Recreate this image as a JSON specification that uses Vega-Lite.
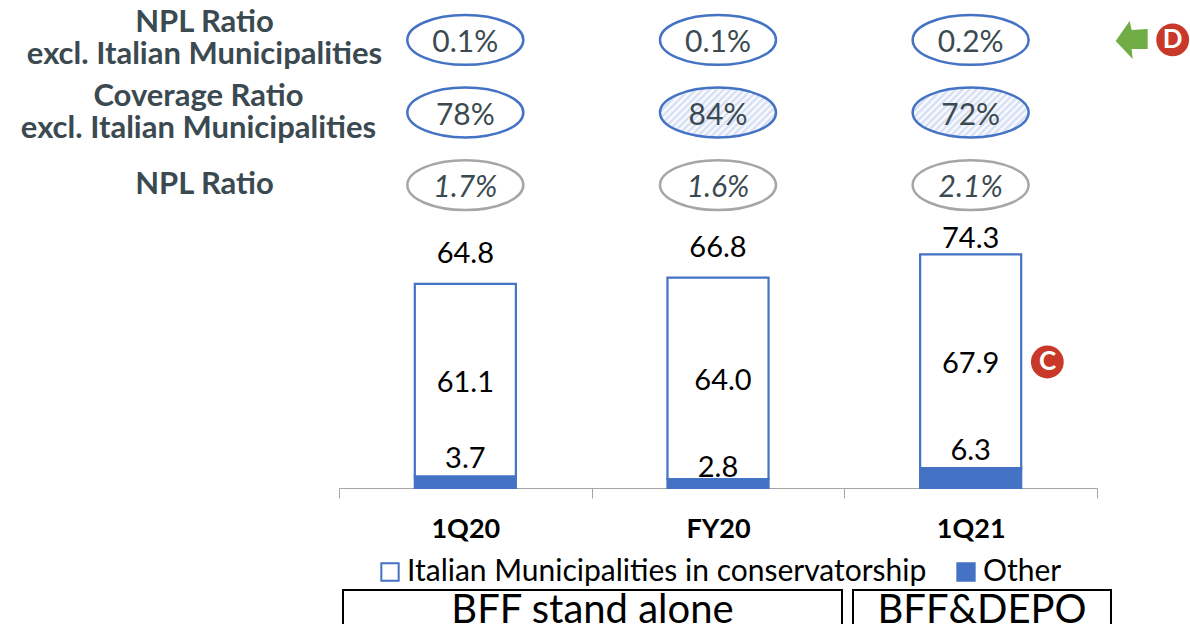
{
  "$schema": "https://vega.github.io/schema/vega-lite/v6.json",
  "padding": {"left": 20, "top": 0, "right": 0, "bottom": 0},
  "background": "white",
  "bounds": "flush",
  "spacing": 0,
  "config": {"view": {"stroke": null}, "font": "Lato", "text": {"font": "Lato"}},
  "datasets": {
    "ratios": [
      {"period": "1Q20", "row": "NPL Ratio|excl. Italian Municipalities", "ratio": "0.1%"},
      {"period": "FY20", "row": "NPL Ratio|excl. Italian Municipalities", "ratio": "0.1%"},
      {"period": "1Q21", "row": "NPL Ratio|excl. Italian Municipalities", "ratio": "0.2%"},
      {"period": "1Q20", "row": "Coverage Ratio|excl. Italian Municipalities", "ratio": "78%"},
      {"period": "FY20", "row": "Coverage Ratio|excl. Italian Municipalities", "ratio": "84%"},
      {"period": "1Q21", "row": "Coverage Ratio|excl. Italian Municipalities", "ratio": "72%"},
      {"period": "1Q20", "row": "NPL Ratio", "ratio": "1.7%"},
      {"period": "FY20", "row": "NPL Ratio", "ratio": "1.6%"},
      {"period": "1Q21", "row": "NPL Ratio", "ratio": "2.1%"}
    ],
    "segments": [
      {"period": "1Q20", "segment": "Other", "value": 3.7},
      {"period": "1Q20", "segment": "Italian Municipalities in conservatorship", "value": 61.1},
      {"period": "FY20", "segment": "Other", "value": 2.8},
      {"period": "FY20", "segment": "Italian Municipalities in conservatorship", "value": 64.0},
      {"period": "1Q21", "segment": "Other", "value": 6.3},
      {"period": "1Q21", "segment": "Italian Municipalities in conservatorship", "value": 67.9}
    ],
    "totals": [
      {"period": "1Q20", "total": 64.8},
      {"period": "FY20", "total": 66.8},
      {"period": "1Q21", "total": 74.3}
    ]
  },
  "vconcat": [
    {
      "width": 758,
      "height": 225,
      "data": {"name": "ratios"},
      "encoding": {
        "x": {"field": "period", "type": "nominal", "sort": ["1Q20", "FY20", "1Q21"], "axis": null},
        "y": {
          "field": "row",
          "type": "nominal",
          "sort": ["NPL Ratio|excl. Italian Municipalities", "Coverage Ratio|excl. Italian Municipalities", "NPL Ratio"],
          "scale": {"type": "point", "padding": 0.55},
          "axis": {
            "title": null,
            "domain": false,
            "ticks": false,
            "grid": false,
            "labelAlign": "center",
            "labelBaseline": "middle",
            "labelPadding": {"condition": {"test": "indexof(datum.value, 'Coverage') === 0", "value": 141}, "value": 135},
            "labelOffset": {
              "condition": [
                {"test": "indexof(datum.value, 'Coverage') === 0", "value": -16},
                {"test": "indexof(datum.value, '|') >= 0", "value": -17}
              ],
              "value": -1
            },
            "labelFont": "Lato",
            "labelFontWeight": "bold",
            "labelFontSize": 31,
            "labelColor": "#3b4a50",
            "labelLineHeight": 32,
            "labelLimit": 500,
            "labelExpr": "split(datum.label, '|')"
          }
        }
      },
      "layer": [
        {
          "transform": [{"filter": "datum.row === 'Coverage Ratio|excl. Italian Municipalities' && datum.period !== '1Q20'"}],
          "mark": {
            "type": "point",
            "shape": "M-1,0C-1,-0.24,-0.55,-0.43,0,-0.43C0.55,-0.43,1,-0.24,1,0C1,0.24,0.55,0.43,0,0.43C-0.55,0.43,-1,0.24,-1,0Z",
            "size": 13456,
            "opacity": 1,
            "strokeOpacity": 0,
            "fill": {
              "gradient": "linear", "x1": 0, "y1": 0, "x2": 1.207, "y2": 0.52,
              "stops": [
                {"offset": 0, "color": "#ffffff"}, {"offset": 0.0208, "color": "#d0dbf2"}, {"offset": 0.0417, "color": "#ffffff"}, {"offset": 0.0625, "color": "#d0dbf2"},
                {"offset": 0.0833, "color": "#ffffff"}, {"offset": 0.1042, "color": "#d0dbf2"}, {"offset": 0.125, "color": "#ffffff"}, {"offset": 0.1458, "color": "#d0dbf2"},
                {"offset": 0.1667, "color": "#ffffff"}, {"offset": 0.1875, "color": "#d0dbf2"}, {"offset": 0.2083, "color": "#ffffff"}, {"offset": 0.2292, "color": "#d0dbf2"},
                {"offset": 0.25, "color": "#ffffff"}, {"offset": 0.2708, "color": "#d0dbf2"}, {"offset": 0.2917, "color": "#ffffff"}, {"offset": 0.3125, "color": "#d0dbf2"},
                {"offset": 0.3333, "color": "#ffffff"}, {"offset": 0.3542, "color": "#d0dbf2"}, {"offset": 0.375, "color": "#ffffff"}, {"offset": 0.3958, "color": "#d0dbf2"},
                {"offset": 0.4167, "color": "#ffffff"}, {"offset": 0.4375, "color": "#d0dbf2"}, {"offset": 0.4583, "color": "#ffffff"}, {"offset": 0.4792, "color": "#d0dbf2"},
                {"offset": 0.5, "color": "#ffffff"}, {"offset": 0.5208, "color": "#d0dbf2"}, {"offset": 0.5417, "color": "#ffffff"}, {"offset": 0.5625, "color": "#d0dbf2"},
                {"offset": 0.5833, "color": "#ffffff"}, {"offset": 0.6042, "color": "#d0dbf2"}, {"offset": 0.625, "color": "#ffffff"}, {"offset": 0.6458, "color": "#d0dbf2"},
                {"offset": 0.6667, "color": "#ffffff"}, {"offset": 0.6875, "color": "#d0dbf2"}, {"offset": 0.7083, "color": "#ffffff"}, {"offset": 0.7292, "color": "#d0dbf2"},
                {"offset": 0.75, "color": "#ffffff"}, {"offset": 0.7708, "color": "#d0dbf2"}, {"offset": 0.7917, "color": "#ffffff"}, {"offset": 0.8125, "color": "#d0dbf2"},
                {"offset": 0.8333, "color": "#ffffff"}, {"offset": 0.8542, "color": "#d0dbf2"}, {"offset": 0.875, "color": "#ffffff"}, {"offset": 0.8958, "color": "#d0dbf2"},
                {"offset": 0.9167, "color": "#ffffff"}, {"offset": 0.9375, "color": "#d0dbf2"}, {"offset": 0.9583, "color": "#ffffff"}, {"offset": 0.9792, "color": "#d0dbf2"},
                {"offset": 1, "color": "#ffffff"}
              ]
            }
          }
        },
        {
          "mark": {
            "type": "point",
            "shape": "M-1,0C-1,-0.24,-0.55,-0.43,0,-0.43C0.55,-0.43,1,-0.24,1,0C1,0.24,0.55,0.43,0,0.43C-0.55,0.43,-1,0.24,-1,0Z",
            "size": 13456,
            "opacity": 1,
            "fill": null,
            "strokeWidth": 2.5
          },
          "encoding": {
            "stroke": {
              "field": "row",
              "type": "nominal",
              "scale": {
                "domain": ["NPL Ratio|excl. Italian Municipalities", "Coverage Ratio|excl. Italian Municipalities", "NPL Ratio"],
                "range": ["#4472c4", "#4472c4", "#a6a6a6"]
              },
              "legend": null
            }
          }
        },
        {
          "transform": [{"filter": "datum.row !== 'NPL Ratio'"}],
          "mark": {"type": "text", "font": "Lato", "fontSize": 30, "color": "#3b4a50", "baseline": "middle", "dy": 3},
          "encoding": {"text": {"field": "ratio", "type": "nominal"}}
        },
        {
          "transform": [{"filter": "datum.row === 'NPL Ratio'"}],
          "mark": {"type": "text", "font": "Lato", "fontStyle": "italic", "fontSize": 30, "color": "#3b4a50", "baseline": "middle", "dy": 3},
          "encoding": {"text": {"field": "ratio", "type": "nominal"}}
        },
        {
          "data": {"values": [{"period": "1Q21", "row": "NPL Ratio|excl. Italian Municipalities", "badge": "D"}]},
          "mark": {
            "type": "point",
            "shape": "M-0.85,0.05L-0.15,-0.95L-0.05,-0.5L0.75,-0.55L0.75,0.45L-0.05,0.45L0,0.95Z",
            "size": 1600,
            "opacity": 1,
            "filled": true,
            "color": "#70ad47"
          },
          "encoding": {"xOffset": {"value": 162}}
        },
        {
          "data": {"values": [{"period": "1Q21", "row": "NPL Ratio|excl. Italian Municipalities", "badge": "D"}]},
          "mark": {"type": "point", "shape": "circle", "size": 1075, "opacity": 1, "filled": true, "color": "#c9392a"},
          "encoding": {"xOffset": {"value": 202}}
        },
        {
          "data": {"values": [{"period": "1Q21", "row": "NPL Ratio|excl. Italian Municipalities", "badge": "D"}]},
          "mark": {"type": "text", "font": "Lato", "fontWeight": "bold", "fontSize": 26, "color": "white", "baseline": "middle", "dx": 202},
          "encoding": {"text": {"field": "badge", "type": "nominal"}}
        }
      ]
    },
    {
      "width": 758,
      "height": 263,
      "encoding": {
        "x": {
          "field": "period",
          "type": "nominal",
          "sort": ["1Q20", "FY20", "1Q21"],
          "scale": {"paddingInner": 0, "paddingOuter": 0},
          "axis": {
            "title": null,
            "labelAngle": 0,
            "tickBand": "extent",
            "tickSize": 10,
            "tickWidth": 1,
            "tickColor": "#a6a6a6",
            "domainColor": "#a6a6a6",
            "domainWidth": 1,
            "grid": false,
            "labelFont": "Lato",
            "labelFontWeight": "bold",
            "labelFontSize": 27,
            "labelColor": "black",
            "labelPadding": 18
          }
        }
      },
      "layer": [
        {
          "data": {"name": "segments"},
          "transform": [
            {"stack": "value", "groupby": ["period"], "sort": [{"field": "segment", "order": "descending"}], "as": ["y0", "y1"]}
          ],
          "mark": {"type": "bar", "width": {"band": 0.4}, "stroke": "#4472c4", "strokeWidth": 2.2},
          "encoding": {
            "y": {"field": "y0", "type": "quantitative", "scale": {"domain": [0, 83.5], "nice": false}, "axis": null},
            "y2": {"field": "y1"},
            "fill": {
              "field": "segment",
              "type": "nominal",
              "scale": {
                "domain": ["Italian Municipalities in conservatorship", "Other"],
                "range": ["#ffffff", "#4472c4"]
              },
              "legend": {
                "title": null,
                "orient": "none",
                "legendX": 36,
                "legendY": 557,
                "direction": "horizontal",
                "symbolType": "square",
                "symbolSize": 300,
                "symbolStrokeColor": "#4472c4",
                "symbolStrokeWidth": 2,
                "labelFont": "Lato",
                "labelFontSize": 30,
                "labelColor": "black",
                "labelLimit": 700,
                "labelOffset": 2,
                "columnPadding": 24
              }
            }
          }
        },
        {
          "data": {"name": "segments"},
          "transform": [
            {"stack": "value", "groupby": ["period"], "sort": [{"field": "segment", "order": "descending"}], "as": ["y0", "y1"]},
            {"filter": "datum.segment !== 'Other' && datum.period !== 'FY20'"},
            {"calculate": "(datum.y0 + datum.y1) / 2", "as": "mid"}
          ],
          "mark": {"type": "text", "font": "Lato", "fontSize": 29, "color": "black", "baseline": "middle", "dy": 3},
          "encoding": {
            "y": {"field": "mid", "type": "quantitative"},
            "text": {"field": "value", "type": "quantitative", "format": ".1f"}
          }
        },
        {
          "data": {"name": "segments"},
          "transform": [
            {"stack": "value", "groupby": ["period"], "sort": [{"field": "segment", "order": "descending"}], "as": ["y0", "y1"]},
            {"filter": "datum.segment !== 'Other' && datum.period === 'FY20'"},
            {"calculate": "(datum.y0 + datum.y1) / 2", "as": "mid"}
          ],
          "mark": {"type": "text", "font": "Lato", "fontSize": 29, "color": "black", "baseline": "middle", "dx": 5, "dy": 3},
          "encoding": {
            "y": {"field": "mid", "type": "quantitative"},
            "text": {"field": "value", "type": "quantitative", "format": ".1f"}
          }
        },
        {
          "data": {"name": "segments"},
          "transform": [{"filter": "datum.segment === 'Other' && datum.period !== 'FY20'"}],
          "mark": {"type": "text", "font": "Lato", "fontSize": 29, "color": "black", "baseline": "middle", "dy": -17},
          "encoding": {
            "y": {"field": "value", "type": "quantitative"},
            "text": {"field": "value", "type": "quantitative", "format": ".1f"}
          }
        },
        {
          "data": {"name": "segments"},
          "transform": [{"filter": "datum.segment === 'Other' && datum.period === 'FY20'"}],
          "mark": {"type": "text", "font": "Lato", "fontSize": 29, "color": "black", "baseline": "middle", "dy": -11},
          "encoding": {
            "y": {"field": "value", "type": "quantitative"},
            "text": {"field": "value", "type": "quantitative", "format": ".1f"}
          }
        },
        {
          "data": {"name": "totals"},
          "transform": [{"filter": "datum.period !== '1Q21'"}],
          "mark": {"type": "text", "font": "Lato", "fontSize": 29, "color": "black", "baseline": "middle", "dy": -30},
          "encoding": {
            "y": {"field": "total", "type": "quantitative"},
            "text": {"field": "total", "type": "quantitative", "format": ".1f"}
          }
        },
        {
          "data": {"name": "totals"},
          "transform": [{"filter": "datum.period === '1Q21'"}],
          "mark": {"type": "text", "font": "Lato", "fontSize": 29, "color": "black", "baseline": "middle", "dy": -15},
          "encoding": {
            "y": {"field": "total", "type": "quantitative"},
            "text": {"field": "total", "type": "quantitative", "format": ".1f"}
          }
        },
        {
          "data": {"values": [{"period": "1Q21", "level": 40, "badge": "C"}]},
          "mark": {"type": "point", "shape": "circle", "size": 1075, "opacity": 1, "filled": true, "color": "#c9392a"},
          "encoding": {"y": {"field": "level", "type": "quantitative"}, "xOffset": {"value": 203}}
        },
        {
          "data": {"values": [{"period": "1Q21", "level": 40, "badge": "C"}]},
          "mark": {"type": "text", "font": "Lato", "fontWeight": "bold", "fontSize": 26, "color": "white", "baseline": "middle", "dx": 77},
          "encoding": {"y": {"field": "level", "type": "quantitative"}, "text": {"field": "badge", "type": "nominal"}}
        }
      ]
    },
    {
      "width": 758,
      "height": 102,
      "data": {"values": []},
      "mark": {"type": "rule"},
      "encoding": {}
    },
    {
      "bounds": "flush",
      "spacing": 0,
      "hconcat": [
        {"width": 4, "height": 36, "data": {"values": []}, "mark": {"type": "rule"}, "encoding": {}},
        {
          "width": 499,
          "height": 36,
          "view": {"stroke": "black", "strokeWidth": 2},
          "data": {"values": [{"scope": "BFF stand alone"}]},
          "mark": {"type": "text", "font": "Lato", "fontSize": 40, "color": "black", "baseline": "middle", "dy": 3},
          "encoding": {"text": {"field": "scope", "type": "nominal"}}
        },
        {"width": 11, "height": 36, "data": {"values": []}, "mark": {"type": "rule"}, "encoding": {}},
        {
          "width": 258,
          "height": 36,
          "view": {"stroke": "black", "strokeWidth": 2},
          "data": {"values": [{"scope": "BFF&DEPO"}]},
          "mark": {"type": "text", "font": "Lato", "fontSize": 40, "color": "black", "baseline": "middle", "dy": 3},
          "encoding": {"text": {"field": "scope", "type": "nominal"}}
        }
      ]
    }
  ]
}
